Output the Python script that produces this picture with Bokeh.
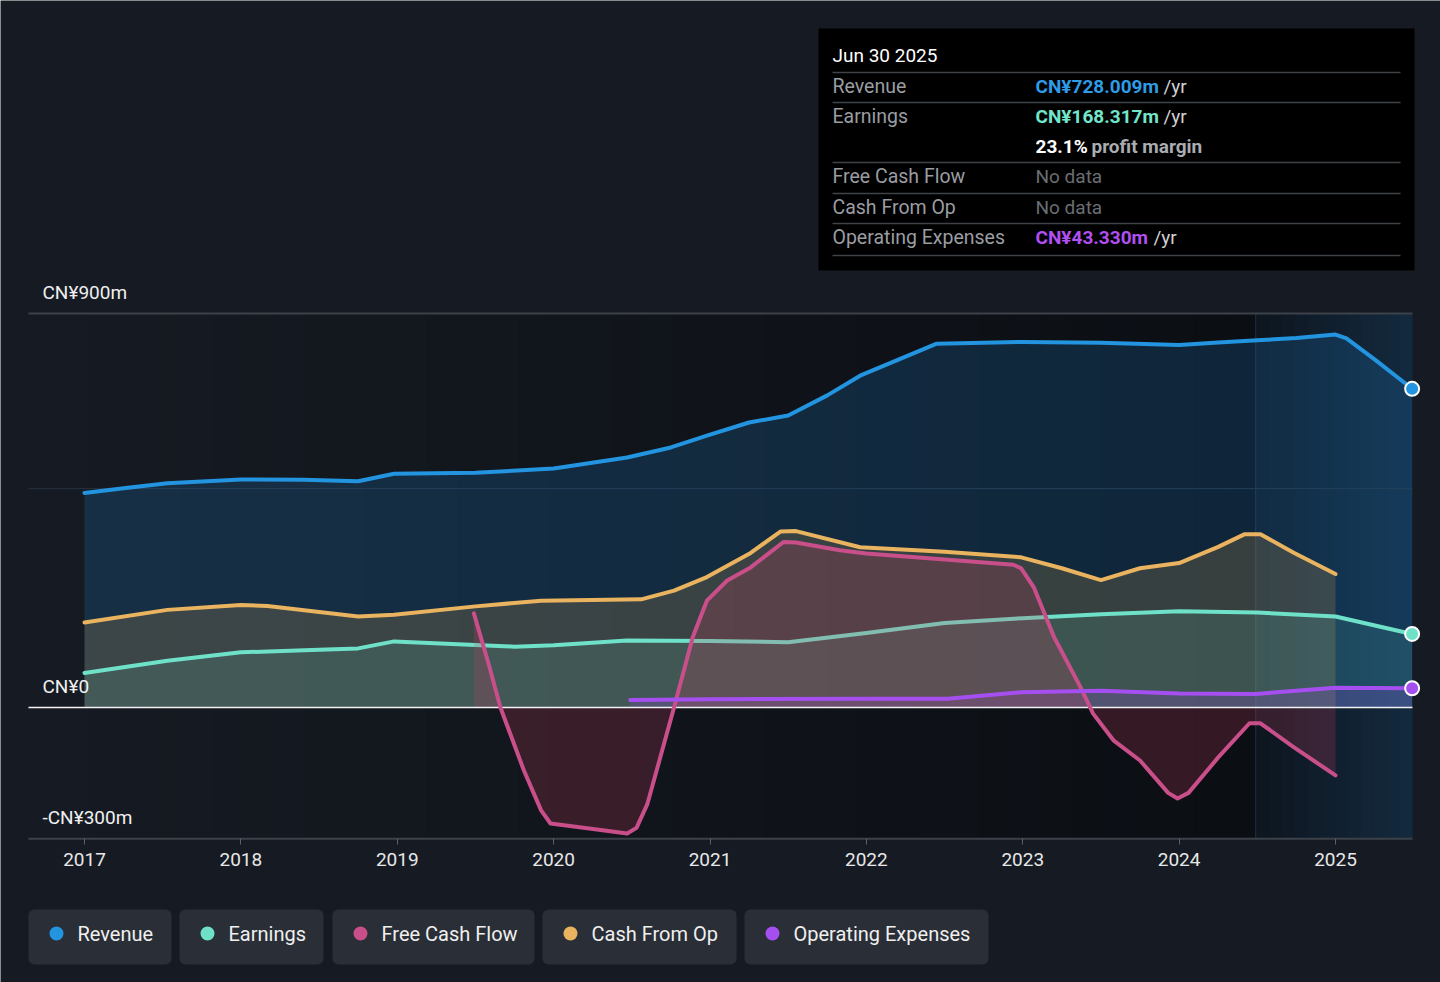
from bokeh.plotting import figure
from bokeh.models import Range1d, LinearAxis, FixedTicker, BoxAnnotation
from bokeh.core.properties import value
from bokeh.embed import file_html
from bokeh.resources import INLINE

# ---------------- data (CN¥ millions, x in decimal years) ----------------
rev_x = [2017.0, 2017.25, 2017.53, 2018.0, 2018.4, 2018.75, 2018.98, 2019.5, 2020.0,
         2020.47, 2020.75, 2020.98, 2021.25, 2021.5, 2021.75, 2021.96, 2022.22, 2022.45,
         2022.75, 2023.0, 2023.5, 2024.0, 2024.25, 2024.5, 2024.75, 2025.0, 2025.07,
         2025.25, 2025.49]
rev_y = [490, 501, 512, 521, 520, 517, 534, 536, 546,
         571, 594, 621, 651, 667, 713, 758, 797, 831,
         833, 835, 833, 828, 834, 839, 844, 852, 843,
         795, 728]

earn_x = [2017.0, 2017.53, 2018.0, 2018.5, 2018.75, 2018.98, 2019.5, 2019.75, 2020.0,
          2020.47, 2021.0, 2021.5, 2022.0, 2022.5, 2023.0, 2023.5, 2024.0, 2024.5,
          2025.0, 2025.49]
earn_y = [79, 107, 126, 132, 135, 151, 143, 139, 142,
          153, 152, 149, 170, 193, 204, 213, 220, 217,
          208, 168]

cfo_x = [2017.0, 2017.53, 2018.0, 2018.17, 2018.75, 2018.98, 2019.5, 2019.92, 2020.56,
         2020.77, 2020.98, 2021.26, 2021.45, 2021.55, 2021.96, 2022.5, 2022.99, 2023.25,
         2023.5, 2023.75, 2024.0, 2024.25, 2024.42, 2024.52, 2024.73, 2025.0]
cfo_y = [194, 223, 234, 232, 208, 212, 231, 244, 247,
         267, 298, 353, 402, 403, 366, 356, 343, 318,
         291, 318, 330, 367, 396, 396, 354, 305]

fcf_x = [2019.49, 2019.58, 2019.66, 2019.81, 2019.92, 2019.98, 2020.24, 2020.47, 2020.53,
         2020.60, 2020.77, 2020.89, 2020.98, 2021.11, 2021.26, 2021.47, 2021.55, 2021.83,
         2022.0, 2022.94, 2022.99, 2023.07, 2023.2, 2023.37, 2023.45, 2023.58, 2023.75,
         2023.93, 2023.99, 2024.06, 2024.25, 2024.45, 2024.52, 2024.73, 2025.0]
fcf_y = [215, 105, 0, -144, -235, -265, -277, -288, -275,
         -220, 0, 161, 244, 290, 320, 378, 377, 359,
         352, 326, 318, 275, 161, 46, -14, -75, -121,
         -195, -208, -195, -114, -36, -36, -90, -155]

opex_x = [2020.49, 2021.0, 2022.0, 2022.52, 2022.99, 2023.5, 2024.0, 2024.49, 2025.0, 2025.49]
opex_y = [17, 19, 20, 20, 35, 38, 32, 31, 45, 44]

year_ticks = [2017, 2018, 2019, 2020, 2021, 2022, 2023, 2024, 2025]
y_label_values = [900, 0, -300]
y_label_texts = ["CN¥900m", "CN¥0", "-CN¥300m"]
forecast_start = 2024.49

series_names = ["Revenue", "Earnings", "Free Cash Flow", "Cash From Op", "Operating Expenses"]
series_colors = ["#2394df", "#6fe1c8", "#c94f8a", "#e9b35f", "#a64ff0"]

tip_title = "Jun 30 2025"
tip_labels = ["Revenue", "Earnings", "", "Free Cash Flow", "Cash From Op", "Operating Expenses"]
tip_values = ["CN¥728.009m", "CN¥168.317m", "23.1%", "No data", "No data", "CN¥43.330m"]
tip_suffix = ["/yr", "/yr", "profit margin", "", "", "/yr"]

# ---------------- layout helpers (page pixels -> data) ----------------
W, H = 1440, 982
PX_PER_YEAR = (1335 - 84) / 8.0
PX_PER_M = (707 - 313) / 900.0


def cx(px):
    return 2017 + (px - 84) / PX_PER_YEAR


def cy(py):
    return (707 - py) / PX_PER_M


def hex2rgb(h):
    h = h.lstrip("#")
    return tuple(int(h[i:i + 2], 16) for i in (0, 2, 4))


def lerp(c1, c2, t):
    a, b = hex2rgb(c1), hex2rgb(c2)
    return "#%02x%02x%02x" % tuple(round(a[i] + (b[i] - a[i]) * t) for i in range(3))


BG = "#161b23"
FONT = value("Roboto")

p = figure(width=W, height=H,
           x_range=Range1d(cx(0), cx(W)), y_range=Range1d(cy(H), cy(0)),
           x_axis_type=None, y_axis_type=None, toolbar_location=None,
           output_backend="svg", min_border=0,
           background_fill_color=BG, border_fill_color=BG, outline_line_color=None)

# ---------------- plot-area background ----------------
left_edge, right_edge = cx(28), cx(1412)
n1 = 40
step = (forecast_start - left_edge) / n1
for i in range(n1):
    l = left_edge + i * step
    p.quad(left=l, right=l + step * 1.05, bottom=-300, top=900,
           fill_color=lerp("#161b23", "#0b0e13", i / (n1 - 1)), line_color=None)
n2 = 12
step2 = (right_edge - forecast_start) / n2
for i in range(n2):
    l = forecast_start + i * step2
    r = min(l + step2 * 1.05, right_edge)
    p.quad(left=l, right=r, bottom=-300, top=900,
           fill_color=lerp("#0e1620", "#13293d", i / (n2 - 1)), line_color=None)
p.segment(x0=[forecast_start], y0=[-300], x1=[forecast_start], y1=[900],
          line_color="#233142", line_width=1)

# gridlines
p.segment(x0=[left_edge] * 2, x1=[right_edge] * 2, y0=[900, -300], y1=[900, -300],
          line_color="#3d424a", line_width=2)
p.segment(x0=[left_edge], x1=[right_edge], y0=[500], y1=[500],
          line_color="#27313e", line_width=1)

# ---------------- fills ----------------
p.varea(x=rev_x, y1=0, y2=rev_y, fill_color="#1d6fb0", fill_alpha=0.25)
p.varea(x=cfo_x, y1=0, y2=cfo_y, fill_color="#d9a556", fill_alpha=0.2)
p.varea(x=earn_x, y1=0, y2=earn_y, fill_color="#6fe1c8", fill_alpha=0.13)
p.varea(x=opex_x, y1=0, y2=opex_y, fill_color="#a64ff0", fill_alpha=0.2)

# ---------------- lines ----------------
p.line(rev_x, rev_y, line_color=series_colors[0], line_width=4, line_join="round", line_cap="round")
p.line(cfo_x, cfo_y, line_color=series_colors[3], line_width=4, line_join="round", line_cap="round")
p.line(earn_x, earn_y, line_color=series_colors[1], line_width=4, line_join="round", line_cap="round")

p.varea(x=fcf_x, y1=0, y2=fcf_y, fill_color="#c8405e", fill_alpha=0.22)

# zero line
p.segment(x0=[left_edge], x1=[right_edge], y0=[0], y1=[0], line_color="#f2f2f2", line_width=1.5)

p.line(fcf_x, fcf_y, line_color=series_colors[2], line_width=4, line_join="round", line_cap="round")
p.line(opex_x, opex_y, line_color=series_colors[4], line_width=4, line_join="round", line_cap="round")

# end markers
p.scatter(x=[rev_x[-1], earn_x[-1], opex_x[-1]], y=[rev_y[-1], earn_y[-1], opex_y[-1]],
          size=14, fill_color=[series_colors[0], series_colors[1], series_colors[4]],
          line_color="#ffffff", line_width=2)

# ---------------- axes ----------------
xaxis = LinearAxis(fixed_location=-300, ticker=FixedTicker(ticks=year_ticks),
                   axis_line_color=None, major_tick_line_color="#5c6168",
                   major_tick_out=6, major_tick_in=0, minor_tick_line_color=None,
                   major_label_text_color="#e8e8e8", major_label_text_font="Roboto",
                   major_label_text_font_size="19px", major_label_standoff=8,
                   major_label_overrides={t: str(t) for t in year_ticks})
p.add_layout(xaxis, "below")

label_lift = 21 / PX_PER_M
p.text(x=[cx(42)] * 3, y=[v + label_lift for v in y_label_values], text=y_label_texts,
       text_font=FONT, text_font_size="19px", text_color="#f0f0f0",
       text_baseline="middle", text_align="left")

# ---------------- tooltip box ----------------
p.add_layout(BoxAnnotation(left=cx(818), right=cx(1414), top=cy(28), bottom=cy(270),
                           fill_color="#000000", fill_alpha=1, line_color=None, level="underlay"))
p.text(x=[cx(832)], y=[cy(55)], text=[tip_title], text_font=FONT, text_font_size="19px",
       text_color="#ffffff", text_baseline="middle")
sep_py = [72, 102, 162, 193, 223, 255]
p.segment(x0=[cx(832)] * len(sep_py), x1=[cx(1400)] * len(sep_py),
          y0=[cy(v) for v in sep_py], y1=[cy(v) for v in sep_py],
          line_color="#3f4247", line_width=1.5)
row_py = [86, 116, 146, 176, 207, 237]
val_colors = ["#2d9be6", "#72e6cc", "#ffffff", "#6b6e73", "#6b6e73", "#b24ff0"]
val_bold = [True, True, True, False, False, True]
suffix_px = [1163, 1163, 1091, 0, 0, 1153]
for i in range(len(row_py)):
    if tip_labels[i]:
        p.text(x=[cx(832)], y=[cy(row_py[i])], text=[tip_labels[i]], text_font=FONT,
               text_font_size="19.5px", text_color="#9a9da2", text_baseline="middle")
    p.text(x=[cx(1035)], y=[cy(row_py[i])], text=[tip_values[i]], text_font=FONT,
           text_font_size="19px", text_color=val_colors[i], text_baseline="middle",
           text_font_style="bold" if val_bold[i] else "normal")
    if tip_suffix[i]:
        p.text(x=[cx(suffix_px[i])], y=[cy(row_py[i])], text=[tip_suffix[i]], text_font=FONT,
               text_font_size="19px", text_color="#a9acb0" if i == 2 else "#cfd1d4",
               text_baseline="middle", text_font_style="bold" if i == 2 else "normal")

# ---------------- legend chips ----------------
chip_l = [28, 179, 332, 542, 744]
chip_r = [171, 323, 534, 736, 988]
for i, name in enumerate(series_names):
    p.add_layout(BoxAnnotation(left=cx(chip_l[i]), right=cx(chip_r[i]), top=cy(909), bottom=cy(964),
                               fill_color="#2a2e36", fill_alpha=1, line_color=None,
                               border_radius=6, level="underlay"))
    p.scatter(x=[cx(chip_l[i] + 28)], y=[cy(933)], size=14, fill_color=series_colors[i],
              line_color=None)
    p.text(x=[cx(chip_l[i] + 49)], y=[cy(933)], text=[name], text_font=FONT,
           text_font_size="20px", text_color="#f0f0f0", text_baseline="middle")

open("out.html", "w").write(file_html(p, INLINE))
